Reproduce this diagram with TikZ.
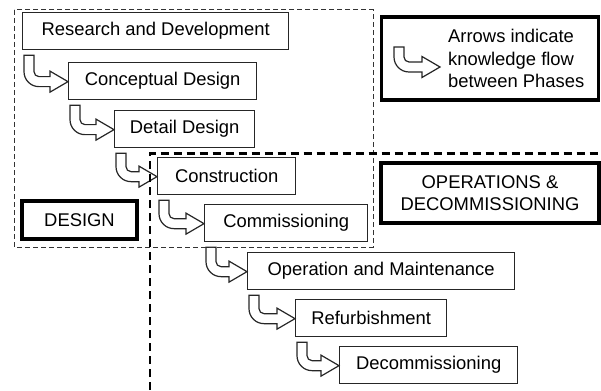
\documentclass[tikz,border=0pt]{standalone}
\usepackage{fontspec}
\setmainfont{Liberation Sans}
\usetikzlibrary{calc}

\tikzset{
  phase/.style={draw=black!85, line width=1.3pt, inner sep=0pt, minimum height=37pt},
  label box/.style={draw=black, line width=3.6pt, inner sep=0pt, align=center},
  fatarrow/.style={draw=black!85, line width=1.2pt, fill=white, line join=miter},
  design zone/.style={draw=black!80, line width=1pt, dash pattern=on 5pt off 3pt},
  ops zone/.style={draw=black, line width=2.4pt, dash pattern=on 8pt off 5pt},
}

% hollow bent arrow: shaft top-left corner (#1), tip (#2)
\newcommand{\bentarrow}[2]{%
  \path[fatarrow] let \p1 = (#1), \p2 = (#2) in
    (\x1,\y1) -- (\x1,{\y2-5pt+15pt})
    arc[start angle=180, end angle=270, radius=15pt]
    -- ({\x2-18pt},{\y2-5pt}) -- ({\x2-18pt},{\y2-10.5pt})
    -- (\x2,\y2)
    -- ({\x2-18pt},{\y2+10.5pt}) -- ({\x2-18pt},{\y2+5pt})
    -- ({\x1+10pt+5pt},{\y2+5pt})
    arc[start angle=270, end angle=180, radius=5pt]
    -- ({\x1+10pt},\y1) -- cycle;}

% phase-to-phase knowledge flow arrow
\newcommand{\flow}[2]{%
  \bentarrow{$(#1.south west)+(2,-5)$}{$(#2.west)+(0,-0.5)$}}

\begin{document}
\begin{tikzpicture}[x=1pt,y=1pt, font=\fontsize{18.4}{22.3}\selectfont]
\useasboundingbox (0,0) rectangle (601,-390);

% phases
\node[phase, anchor=north west, minimum width=266pt] (rd)   at (22,-12)  {Research and Development};
\node[phase, anchor=north west, minimum width=188pt] (cd)   at (68,-62)  {Conceptual Design};
\node[phase, anchor=north west, minimum width=140pt] (dd)   at (114,-110) {Detail Design};
\node[phase, anchor=north west, minimum width=138pt] (con)  at (157,-157) {Construction};
\node[phase, anchor=north west, minimum width=163pt] (com)  at (204,-204) {Commissioning};
\node[phase, anchor=north west, minimum width=267pt] (om)   at (247,-252) {Operation and Maintenance};
\node[phase, anchor=north west, minimum width=151pt] (ref)  at (295,-299) {Refurbishment};
\node[phase, anchor=north west, minimum width=178pt] (dec)  at (339,-346) {Decommissioning};

% knowledge flow between phases
\flow{rd}{cd}
\flow{cd}{dd}
\flow{dd}{con}
\flow{con}{com}
\flow{com}{om}
\flow{om}{ref}
\flow{ref}{dec}

% zones
\coordinate (dz1) at (14,-10);
\coordinate (dz2) at (373,-247);
\draw[design zone] (dz1) rectangle (dz2);

\coordinate (oz0) at (150,-390);
\coordinate (oz1) at (150,-153.5);
\coordinate (oz2) at (601,-153.5);
\draw[ops zone] (oz0) -- (oz1) -- (oz2);

% zone labels
\node[label box, minimum width=115pt, minimum height=38pt] (design) at (79.5,-220) {DESIGN};
\node[label box, minimum width=218pt, minimum height=60pt] (ops) at (490,-193)
  {OPERATIONS \&\\DECOMMISSIONING};

% legend
\node[label box, minimum width=217pt, minimum height=83pt] (legend) at (490,-58.5) {};
\node[anchor=west, align=left, inner sep=0pt] (legtext) at (448,-58.5)
  {Arrows indicate\\knowledge flow\\between Phases};
\coordinate (lgA) at (394,-47);
\coordinate (lgB) at (440,-67);
\bentarrow{lgA}{lgB}
\end{tikzpicture}
\end{document}
